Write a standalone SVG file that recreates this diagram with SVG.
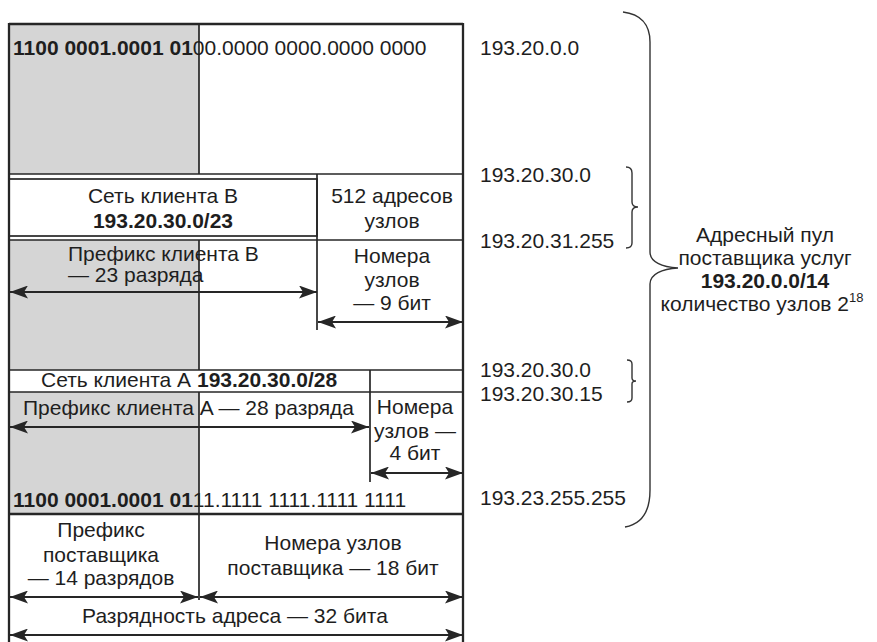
<svg xmlns="http://www.w3.org/2000/svg" width="877" height="642" viewBox="0 0 877 642">
<defs>
<style>
text{font-family:"Liberation Sans",Arial,sans-serif;font-size:21px;fill:#1e1e1e}
.b{font-weight:bold}
.m{text-anchor:middle}
.ln{stroke:#262626;stroke-width:1.7;fill:none}
.bd{stroke:#262626;stroke-width:2.3;fill:none}
.sh{fill:#d5d5d5}
.ar{stroke:#262626;stroke-width:2;fill:none;marker-start:url(#ah);marker-end:url(#ah)}
.br{stroke:#333;stroke-width:1.4;fill:none}
</style>
<marker id="ah" viewBox="0 0 18 13" refX="18" refY="6.5" markerWidth="18" markerHeight="13" markerUnits="userSpaceOnUse" orient="auto-start-reverse">
<path d="M0,0 L18,6.5 L0,13 L4,6.5 Z" fill="#262626"/>
</marker>
</defs>
<rect width="877" height="642" fill="#fff"/>

<g id="shading">
<rect class="sh" x="9" y="24" width="190" height="150"/>
<rect class="sh" x="9" y="240" width="190" height="130"/>
<rect class="sh" x="9" y="392" width="190" height="122"/>
</g>

<g id="grid">
<line class="bd" x1="9" y1="24" x2="463" y2="24"/>
<line class="bd" x1="9" y1="23" x2="9" y2="642"/>
<line class="bd" x1="463" y1="23" x2="463" y2="642"/>
<line class="ln" x1="9" y1="174" x2="463" y2="174"/>
<rect class="ln" x="9" y="179" width="308" height="57"/>
<line class="ln" x1="9" y1="240" x2="463" y2="240"/>
<line class="ln" x1="317" y1="174" x2="317" y2="330"/>
<line class="ln" x1="199" y1="24" x2="199" y2="174"/>
<line class="ln" x1="199" y1="240" x2="199" y2="370"/>
<line class="ln" x1="9" y1="370" x2="463" y2="370"/>
<line class="ln" x1="9" y1="392" x2="463" y2="392"/>
<line class="ln" x1="370" y1="370" x2="370" y2="482"/>
<line class="ln" x1="199" y1="392" x2="199" y2="600"/>
<line class="bd" x1="9" y1="514" x2="463" y2="514"/>
</g>

<g id="provider-start">
<text x="13" y="55"><tspan class="b">1100 0001.0001 01</tspan>00.0000 0000.0000 0000</text>
</g>

<g id="client-b">
<text class="m" x="163" y="203">Сеть клиента B</text>
<text class="m b" x="163" y="228">193.20.30.0/23</text>
<text class="m" x="392" y="203">512 адресов</text>
<text class="m" x="392" y="228">узлов</text>
<text x="68" y="261">Префикс клиента B</text>
<text x="68" y="282">— 23 разряда</text>
<text class="m" x="392" y="263">Номера</text>
<text class="m" x="392" y="287">узлов</text>
<text class="m" x="392" y="310">— 9 бит</text>
</g>

<g id="client-a">
<text x="41" y="387">Сеть клиента А <tspan class="b">193.20.30.0/28</tspan></text>
<text x="23" y="415">Префикс клиента A — 28 разряда</text>
<text class="m" x="415" y="414">Номера</text>
<text class="m" x="415" y="438">узлов —</text>
<text class="m" x="415" y="460">4 бит</text>
</g>

<g id="provider-end">
<text x="13" y="507"><tspan class="b">1100 0001.0001 01</tspan>11.1111 1111.1111 1111</text>
</g>

<g id="provider-split">
<text class="m" x="101" y="537">Префикс</text>
<text class="m" x="101" y="562">поставщика</text>
<text class="m" x="101" y="585">— 14 разрядов</text>
<text class="m" x="333" y="550">Номера узлов</text>
<text class="m" x="333" y="575">поставщика — 18 бит</text>
<text class="m" x="235" y="623">Разрядность адреса — 32 бита</text>
</g>

<g id="addresses">
<text x="480" y="55">193.20.0.0</text>
<text x="480" y="182">193.20.30.0</text>
<text x="480" y="248">193.20.31.255</text>
<text x="480" y="377">193.20.30.0</text>
<text x="480" y="401">193.20.30.15</text>
<text x="480" y="505">193.23.255.255</text>
</g>

<g id="pool-label">
<text class="m" x="765" y="242">Адресный пул</text>
<text class="m" x="765" y="265">поставщика услуг</text>
<text class="m b" x="765" y="288">193.20.0.0/14</text>
<text class="m" x="762" y="311">количество узлов 2<tspan font-size="13" dy="-9">18</tspan></text>
</g>

<g id="connectors">
<line class="ar" x1="10" y1="292" x2="317" y2="292"/>
<line class="ar" x1="318" y1="322" x2="463" y2="322"/>
<line class="ar" x1="10" y1="427" x2="369" y2="427"/>
<line class="ar" x1="371" y1="473" x2="463" y2="473"/>
<line class="ar" x1="10" y1="597" x2="198" y2="597"/>
<line class="ar" x1="200" y1="597" x2="463" y2="597"/>
<line class="ar" x1="10" y1="635" x2="463" y2="635"/>
</g>

<g id="braces">
<path class="br" d="M623,12 C640,14 650,24 650,42 L650,252 C650,262 662,267 678,268 C662,269 650,274 650,284 L650,490 C650,512 642,524 625,527"/>
<path class="br" d="M626,167 C630,167 632,169 632,173 L632,202 C632,205 634,207 638,207 C634,207 632,209 632,212 L632,243 C632,247 630,248 626,248"/>
<path class="br" d="M627,360 C630,360 632,361 632,364 L632,378 C632,380 633,381 636,381 C633,381 632,382 632,384 L632,398 C632,401 630,402 627,402"/>
</g>
</svg>
